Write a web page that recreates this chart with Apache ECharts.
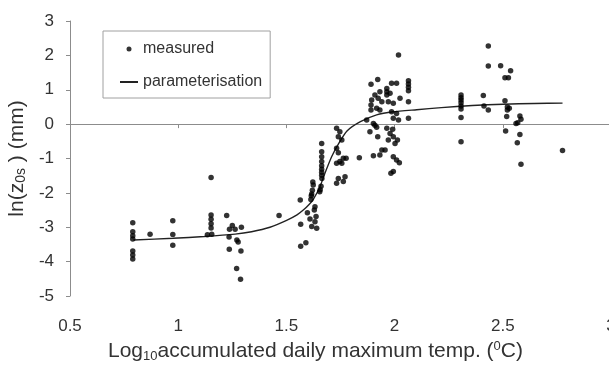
<!DOCTYPE html>
<html>
<head>
<meta charset="utf-8">
<script src="https://cdn.jsdelivr.net/npm/echarts@6/dist/echarts.min.js"></script>
<style>
  html, body { margin: 0; padding: 0; background: #fff; }
  #chart { width: 609px; height: 365px; }
</style>
</head>
<body>
<div id="chart"></div>
<script>
// axis ticks
const xTicks = [0.5, 1, 1.5, 2, 2.5, 3]
const yTicks = [-5, -4, -3, -2, -1, 0, 1, 2, 3]

// measured points [log10 accumulated temp, ln(z0s)]
const measured = [
  [0.79, -2.87], [0.79, -3.13], [0.79, -3.25], [0.79, -3.34], [0.79, -3.69], [0.79, -3.81], [0.79, -3.92],
  [0.87, -3.2],
  [0.975, -2.81], [0.975, -3.21], [0.975, -3.52],
  [1.152, -1.55], [1.152, -2.64], [1.152, -2.77], [1.152, -2.9], [1.152, -3.02], [1.155, -3.2], [1.135, -3.22],
  [1.224, -2.66], [1.25, -2.95], [1.237, -3.06], [1.263, -3.06], [1.292, -3.0], [1.235, -3.28],
  [1.271, -3.37], [1.277, -3.43], [1.236, -3.64], [1.29, -3.69], [1.27, -4.2], [1.288, -4.51],
  [1.466, -2.66],
  [1.564, -2.21], [1.566, -2.91], [1.566, -3.55], [1.59, -3.45], [1.597, -2.58], [1.609, -2.76],
  [1.617, -2.98], [1.632, -2.4], [1.629, -2.5], [1.637, -2.69], [1.632, -2.84], [1.64, -3.03],
  [1.613, -2.19], [1.617, -2.03], [1.62, -1.92], [1.622, -1.68], [1.624, -1.77], [1.615, -2.08],
  [1.663, -0.56], [1.663, -0.8], [1.663, -0.95], [1.663, -1.09], [1.663, -1.21], [1.663, -1.31],
  [1.663, -1.4], [1.663, -1.49], [1.664, -1.58], [1.66, -1.81], [1.656, -1.91], [1.654, -1.97],
  [1.732, -0.12], [1.747, -0.22], [1.74, -0.37], [1.756, -0.46], [1.732, -0.7], [1.74, -0.83],
  [1.747, -1.09], [1.732, -1.14], [1.756, -1.14], [1.763, -0.99], [1.776, -0.99], [1.74, -1.58],
  [1.732, -1.72], [1.771, -1.53], [1.763, -1.67],
  [2.018, 2.01], [1.891, 1.16], [1.922, 1.3], [1.986, 1.19], [2.009, 1.19], [2.064, 1.26],
  [2.064, 1.17], [2.064, 1.07], [2.064, 0.97], [1.932, 0.94], [1.909, 0.85], [1.964, 1.04],
  [1.964, 0.94], [1.964, 0.85], [1.979, 0.9], [1.894, 0.7], [1.924, 0.75], [1.891, 0.56],
  [1.941, 0.65], [1.971, 0.65], [1.994, 0.61], [2.025, 0.75], [2.064, 0.65], [1.891, 0.41],
  [1.917, 0.46], [1.932, 0.41], [1.986, 0.36], [2.009, 0.31], [2.064, 0.17], [1.994, 0.17],
  [2.018, 0.12], [1.871, 0.12], [1.902, 0.02], [1.909, -0.03], [1.917, -0.09], [1.886, -0.22],
  [1.922, -0.37], [1.964, -0.12], [1.991, -0.15], [1.979, -0.27], [1.994, -0.37], [1.971, -0.46],
  [2.002, -0.56], [2.013, -0.46], [1.932, -0.9], [1.956, -0.75], [1.941, -0.75], [1.902, -0.92],
  [1.837, -0.98], [1.994, -0.95], [2.009, -1.04], [2.022, -1.12], [1.994, -1.38], [1.983, -1.43],
  [2.433, 2.27], [2.433, 1.69], [2.49, 1.7], [2.536, 1.55], [2.51, 1.35], [2.526, 1.35],
  [2.307, 0.85], [2.307, 0.77], [2.307, 0.7], [2.307, 0.62], [2.307, 0.53], [2.307, 0.44],
  [2.307, 0.19], [2.307, -0.51], [2.41, 0.83], [2.413, 0.53], [2.433, 0.41], [2.51, 0.68],
  [2.521, 0.5], [2.53, 0.46], [2.521, 0.41], [2.518, 0.22], [2.579, 0.24], [2.584, 0.14],
  [2.569, 0.04], [2.561, 0.02], [2.513, -0.2], [2.579, -0.3], [2.567, -0.54], [2.584, -1.17],
  [2.776, -0.77]
]

// parameterisation curve
const paramX = [0.793, 0.977, 1.12, 1.263, 1.339, 1.424, 1.501, 1.549, 1.578, 1.606, 1.625, 1.655,
  1.678, 1.709, 1.74, 1.78, 1.842, 1.917, 1.994, 2.102, 2.216, 2.359, 2.502, 2.645, 2.776]
const paramY = [-3.37, -3.32, -3.27, -3.2, -3.13, -3.0, -2.8, -2.64, -2.5, -2.33, -2.18, -1.82,
  -1.43, -0.95, -0.58, -0.2, 0.07, 0.27, 0.36, 0.42, 0.48, 0.54, 0.58, 0.6, 0.61]

const font = "'Liberation Sans', Arial, sans-serif"
const textColor = '#333'
const axisColor = '#8c8c8c'

const chart = echarts.init(document.getElementById('chart'))

const option = {
  backgroundColor: '#fff',
  animation: false,
  textStyle: { fontFamily: font },
  // plot box fixed; the "3" label runs off the right edge like the original
  grid: { left: 70, top: 21, width: 541, height: 275, outerBoundsMode: 'none' },
  legend: {
    orient: 'vertical',
    left: 103,
    top: 31,
    padding: [10, 8, 8, 16],
    itemGap: 17,
    itemWidth: 18,
    itemHeight: 5,
    borderColor: '#a0a0a0',
    borderWidth: 1,
    textStyle: { fontSize: 16, color: textColor, fontFamily: font },
    data: [
      { name: 'measured' },
      { name: 'parameterisation', itemStyle: { opacity: 0 } }
    ]
  },
  xAxis: {
    type: 'value',
    min: xTicks[0],
    max: xTicks[xTicks.length - 1],
    interval: 0.5,
    splitLine: { show: false },
    axisLine: { lineStyle: { color: axisColor } },
    axisTick: { length: 4, lineStyle: { color: axisColor } },
    axisLabel: { fontSize: 17, color: textColor, margin: 22, fontFamily: font },
    name: 'Log{sub|10}accumulated daily maximum temp. ({sup|0}C)',
    nameLocation: 'middle',
    nameGap: 41,
    nameTextStyle: {
      fontSize: 21, color: textColor, fontFamily: font, padding: [0, 50, 0, 0],
      rich: {
        sub: { fontSize: 13, color: textColor, fontFamily: font, padding: [10, 0, 0, 0] },
        sup: { fontSize: 13, color: textColor, fontFamily: font, padding: [0, 0, 10, 0] }
      }
    }
  },
  yAxis: {
    type: 'value',
    min: yTicks[0],
    max: yTicks[yTicks.length - 1],
    interval: 1,
    splitLine: { show: false },
    axisLine: { show: true, lineStyle: { color: axisColor } },
    axisTick: { show: true, length: 4, lineStyle: { color: axisColor } },
    axisLabel: { fontSize: 17, color: textColor, margin: 16, fontFamily: font },
    name: 'ln(z{sub|0s} ) (mm)',
    nameLocation: 'middle',
    nameGap: 36,
    nameTextStyle: {
      fontSize: 21, color: textColor, fontFamily: font,
      rich: {
        sub: { fontSize: 14, color: textColor, fontFamily: font, padding: [8, 0, 0, 0] }
      }
    }
  },
  series: [
    {
      name: 'measured',
      type: 'scatter',
      data: measured,
      symbol: 'circle',
      symbolSize: 5.5,
      itemStyle: { color: '#000' },
      z: 3
    },
    {
      name: 'parameterisation',
      type: 'line',
      data: paramX.map((x, i) => [x, paramY[i]]),
      symbol: 'none',
      smooth: 0.2,
      lineStyle: { color: '#222', width: 1.4 },
      itemStyle: { color: '#222' },
      z: 2
    }
  ]
}

chart.setOption(option)
</script>
</body>
</html>
